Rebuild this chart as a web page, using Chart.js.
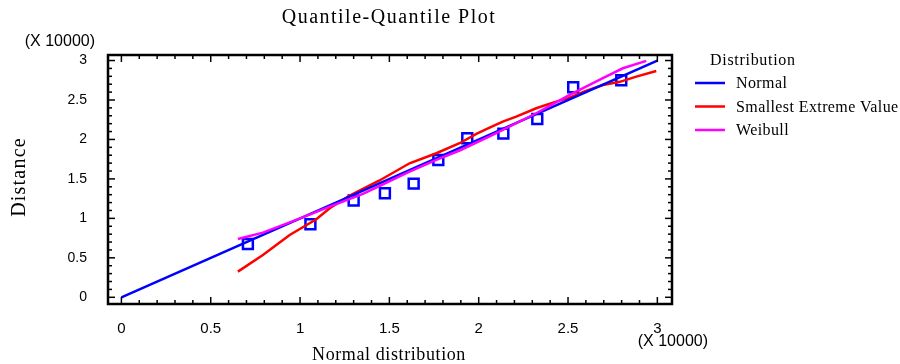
<!DOCTYPE html>
<html>
<head>
<meta charset="utf-8">
<script src="https://cdn.jsdelivr.net/npm/chart.js@4.4.1/dist/chart.umd.min.js"></script>
<style>
  html, body { margin: 0; padding: 0; background: #fff; }
</style>
</head>
<body>
<canvas id="qqChart" width="900" height="364"></canvas>
<script>
// valeurs en unités de 10000
const obsX = [0.708, 1.058, 1.300, 1.475, 1.636, 1.774, 1.936, 2.138, 2.328, 2.529, 2.798];
const obsY = [0.676, 0.925, 1.227, 1.318, 1.440, 1.740, 2.015, 2.074, 2.260, 2.662, 2.750];

const normalX = [0, 3];
const normalY = [0, 3];

const sevX = [0.652, 0.792, 0.942, 1.091, 1.166, 1.278, 1.445, 1.613, 1.763, 1.893, 1.987, 2.061, 2.135, 2.210, 2.322, 2.420, 2.509, 2.600, 2.695, 2.790, 2.882, 2.994];
const sevY = [0.325, 0.536, 0.790, 0.989, 1.128, 1.290, 1.480, 1.698, 1.825, 1.952, 2.070, 2.150, 2.226, 2.290, 2.395, 2.470, 2.530, 2.615, 2.690, 2.730, 2.796, 2.868];

const weibullX = [0.652, 0.792, 0.979, 1.166, 1.352, 1.464, 1.613, 1.763, 1.893, 2.061, 2.135, 2.322, 2.509, 2.695, 2.807, 2.938];
const weibullY = [0.739, 0.819, 0.980, 1.148, 1.310, 1.430, 1.592, 1.740, 1.860, 2.040, 2.120, 2.332, 2.564, 2.776, 2.902, 2.995];

const axisTicks = [0, 0.5, 1, 1.5, 2, 2.5, 3];
const seriesNames = ["Normal", "Smallest Extreme Value", "Weibull"];
const seriesColors = ["#0000ff", "#ff0000", "#ff00ff"];

function toPoints(xs, ys) {
  return xs.map((x, i) => ({ x: x, y: ys[i] }));
}

function seg(ctx, x1, y1, x2, y2) {
  ctx.beginPath();
  ctx.moveTo(x1, y1);
  ctx.lineTo(x2, y2);
  ctx.stroke();
}

// cadre + graduations vers l'intérieur
const framePlugin = {
  id: "frame",
  afterDatasetsDraw(chart) {
    const { ctx, chartArea: a, scales } = chart;
    ctx.save();
    ctx.strokeStyle = "#000";
    ctx.lineWidth = 1.5;
    for (let i = 0; i <= 30; i++) {
      const len = i % 5 === 0 ? 7 : 4;
      const px = scales.x.getPixelForValue(i / 10);
      const py = scales.y.getPixelForValue(i / 10);
      seg(ctx, px, a.bottom, px, a.bottom - len);
      seg(ctx, px, a.top, px, a.top + len);
      seg(ctx, a.left, py, a.left + len, py);
      seg(ctx, a.right, py, a.right - len, py);
    }
    ctx.lineWidth = 2.5;
    ctx.strokeRect(a.left, a.top, a.right - a.left, a.bottom - a.top);
    ctx.restore();
  }
};

// titres, unités et légende
const textPlugin = {
  id: "texts",
  afterDraw(chart) {
    const ctx = chart.ctx;
    ctx.save();
    ctx.fillStyle = "#000";
    ctx.textBaseline = "alphabetic";

    ctx.font = '20px "Liberation Serif"';
    ctx.letterSpacing = "1.5px";
    ctx.textAlign = "center";
    ctx.fillText("Quantile-Quantile Plot", 389, 23);

    ctx.font = '18px "Liberation Serif"';
    ctx.letterSpacing = "0.6px";
    ctx.fillText("Normal distribution", 389, 360);

    ctx.save();
    ctx.translate(25, 177);
    ctx.rotate(-Math.PI / 2);
    ctx.font = '20px "Liberation Serif"';
    ctx.letterSpacing = "1.2px";
    ctx.fillText("Distance", 0, 0);
    ctx.restore();

    ctx.font = '16px "Liberation Sans"';
    ctx.letterSpacing = "0px";
    ctx.textAlign = "right";
    ctx.fillText("(X 10000)", 95, 46);
    ctx.fillText("(X 10000)", 708, 346);

    ctx.textAlign = "left";
    ctx.font = '16px "Liberation Serif"';
    ctx.letterSpacing = "0.7px";
    ctx.fillText("Distribution", 710, 65);
    ctx.letterSpacing = "0.4px";
    seriesNames.forEach((name, i) => {
      const y = 83 + i * 23.5;
      ctx.strokeStyle = seriesColors[i];
      ctx.lineWidth = 2.5;
      seg(ctx, 695, y, 725, y);
      ctx.fillText(name, 736, y + 5);
    });
    ctx.restore();
  }
};

const tickFont = (size) => ({ family: "Liberation Sans", size: size });

const ctx = document.getElementById("qqChart").getContext("2d");
const qqChart = new Chart(ctx, {
  type: "scatter",
  data: {
    datasets: [
      {
        label: seriesNames[0],
        data: toPoints(normalX, normalY),
        showLine: true,
        borderColor: seriesColors[0],
        borderWidth: 2.5,
        pointRadius: 0,
        order: 1,
      },
      {
        label: seriesNames[1],
        data: toPoints(sevX, sevY),
        showLine: true,
        borderColor: seriesColors[1],
        borderWidth: 2.5,
        pointRadius: 0,
        order: 2,
      },
      {
        label: seriesNames[2],
        data: toPoints(weibullX, weibullY),
        showLine: true,
        borderColor: seriesColors[2],
        borderWidth: 2.5,
        pointRadius: 0,
        order: 0,
      },
      {
        label: "Observed",
        data: toPoints(obsX, obsY),
        showLine: false,
        pointStyle: "rect",
        pointRadius: 7,
        borderColor: "#0000ff",
        backgroundColor: "rgba(0,0,0,0)",
        borderWidth: 2.5,
        order: 3,
      },
    ],
  },
  options: {
    responsive: false,
    animation: false,
    layout: { padding: { top: 55, right: 228, left: 0, bottom: 0 } },
    plugins: {
      legend: { display: false },
      tooltip: { enabled: false },
    },
    scales: {
      x: {
        type: "linear",
        min: -0.075,
        max: 3.082,
        afterBuildTicks: (s) => { s.ticks = axisTicks.map((v) => ({ value: v })); },
        afterFit: (s) => { s.height = 60; },
        grid: { display: false },
        border: { display: false },
        ticks: {
          font: tickFont(15),
          color: "#000",
          padding: 8,
          maxRotation: 0,
          autoSkip: false,
          callback: (v) => String(v),
        },
      },
      y: {
        type: "linear",
        min: -0.085,
        max: 3.07,
        afterBuildTicks: (s) => { s.ticks = axisTicks.map((v) => ({ value: v })); },
        afterFit: (s) => { s.width = 108; },
        grid: { display: false },
        border: { display: false },
        ticks: {
          font: tickFont(14),
          color: "#000",
          padding: 13,
          autoSkip: false,
          callback: (v) => String(v),
        },
      },
    },
  },
  plugins: [framePlugin, textPlugin],
});
</script>
</body>
</html>
